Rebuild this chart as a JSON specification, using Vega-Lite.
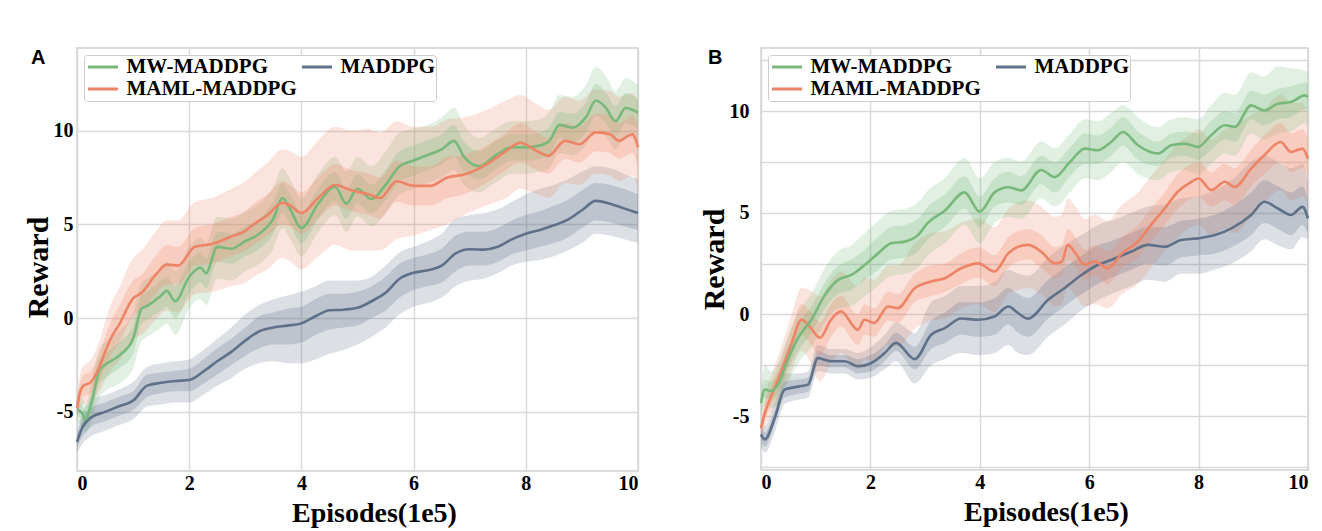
{
  "$schema": "https://vega.github.io/schema/vega-lite/v6.json",
  "background": "white",
  "padding": {"left": 22, "top": 47, "right": 5, "bottom": 5},
  "spacing": 54,
  "config": {
    "view": {"stroke": "#d0d0d0", "strokeWidth": 1.5},
    "axis": {"labelFont": "Liberation Serif", "labelFontSize": 20, "labelFontWeight": "bold", "labelColor": "black", "titleFont": "Liberation Serif", "titleFontSize": 28, "titleFontWeight": "bold", "titleColor": "black", "gridColor": "#d9d9d9", "gridWidth": 1.5, "domain": false, "ticks": false},
    "legend": {"orient": "top-left", "offset": 7, "columns": 2, "title": null, "symbolType": "stroke", "symbolSize": 900, "symbolStrokeWidth": 3, "clipHeight": 22, "labelFont": "Liberation Serif", "labelFontSize": 21, "labelFontWeight": "bold", "labelColor": "black", "strokeColor": "#cccccc", "fillColor": "white", "padding": 1, "cornerRadius": 3, "rowPadding": 0, "symbolOffset": 1.5, "labelOffset": 7, "labelLimit": 400}
  },
  "datasets": {
    "curves": [
      {"p":"A","s":"MADDPG","x":0,"m":-6.6,"l2":-7.2,"l1":-6.9,"h1":-6.3,"h2":-6.0},
      {"p":"A","s":"MADDPG","x":0.1,"m":-5.8,"l2":-6.7,"l1":-6.3,"h1":-5.3,"h2":-5.0},
      {"p":"A","s":"MADDPG","x":0.25,"m":-5.3,"l2":-6.3,"l1":-5.8,"h1":-4.8,"h2":-4.4},
      {"p":"A","s":"MADDPG","x":0.5,"m":-5.0,"l2":-6.0,"l1":-5.5,"h1":-4.5,"h2":-4.1},
      {"p":"A","s":"MADDPG","x":0.75,"m":-4.7,"l2":-5.7,"l1":-5.2,"h1":-4.2,"h2":-3.8},
      {"p":"A","s":"MADDPG","x":1.0,"m":-4.4,"l2":-5.4,"l1":-4.9,"h1":-3.9,"h2":-3.4},
      {"p":"A","s":"MADDPG","x":1.25,"m":-3.6,"l2":-4.7,"l1":-4.2,"h1":-3.0,"h2":-2.6},
      {"p":"A","s":"MADDPG","x":1.5,"m":-3.45,"l2":-4.6,"l1":-4.0,"h1":-2.9,"h2":-2.4},
      {"p":"A","s":"MADDPG","x":1.75,"m":-3.35,"l2":-4.5,"l1":-3.9,"h1":-2.8,"h2":-2.3},
      {"p":"A","s":"MADDPG","x":2.0,"m":-3.3,"l2":-4.5,"l1":-3.9,"h1":-2.7,"h2":-2.2},
      {"p":"A","s":"MADDPG","x":2.25,"m":-2.85,"l2":-4.1,"l1":-3.5,"h1":-2.2,"h2":-1.7},
      {"p":"A","s":"MADDPG","x":2.5,"m":-2.3,"l2":-3.6,"l1":-3.0,"h1":-1.6,"h2":-1.1},
      {"p":"A","s":"MADDPG","x":2.75,"m":-1.8,"l2":-3.2,"l1":-2.5,"h1":-1.1,"h2":-0.5},
      {"p":"A","s":"MADDPG","x":3.0,"m":-1.2,"l2":-2.7,"l1":-2.0,"h1":-0.5,"h2":0.2},
      {"p":"A","s":"MADDPG","x":3.25,"m":-0.7,"l2":-2.4,"l1":-1.6,"h1":0.1,"h2":0.7},
      {"p":"A","s":"MADDPG","x":3.5,"m":-0.5,"l2":-2.3,"l1":-1.4,"h1":0.3,"h2":1.0},
      {"p":"A","s":"MADDPG","x":3.75,"m":-0.4,"l2":-2.4,"l1":-1.4,"h1":0.5,"h2":1.2},
      {"p":"A","s":"MADDPG","x":4.0,"m":-0.28,"l2":-2.4,"l1":-1.3,"h1":0.6,"h2":1.4},
      {"p":"A","s":"MADDPG","x":4.25,"m":0.1,"l2":-2.2,"l1":-0.9,"h1":1.0,"h2":1.7},
      {"p":"A","s":"MADDPG","x":4.5,"m":0.42,"l2":-1.9,"l1":-0.6,"h1":1.3,"h2":2.0},
      {"p":"A","s":"MADDPG","x":4.75,"m":0.45,"l2":-1.7,"l1":-0.5,"h1":1.3,"h2":2.0},
      {"p":"A","s":"MADDPG","x":5.0,"m":0.55,"l2":-1.4,"l1":-0.4,"h1":1.4,"h2":2.0},
      {"p":"A","s":"MADDPG","x":5.25,"m":0.9,"l2":-1.0,"l1":0.0,"h1":1.7,"h2":2.2},
      {"p":"A","s":"MADDPG","x":5.5,"m":1.35,"l2":-0.5,"l1":0.4,"h1":2.2,"h2":2.8},
      {"p":"A","s":"MADDPG","x":5.75,"m":2.1,"l2":0.2,"l1":1.1,"h1":2.9,"h2":3.5},
      {"p":"A","s":"MADDPG","x":6.0,"m":2.42,"l2":0.6,"l1":1.5,"h1":3.2,"h2":3.8},
      {"p":"A","s":"MADDPG","x":6.25,"m":2.55,"l2":0.8,"l1":1.7,"h1":3.4,"h2":4.1},
      {"p":"A","s":"MADDPG","x":6.5,"m":2.8,"l2":1.1,"l1":1.9,"h1":3.7,"h2":4.5},
      {"p":"A","s":"MADDPG","x":6.75,"m":3.45,"l2":1.7,"l1":2.5,"h1":4.4,"h2":5.3},
      {"p":"A","s":"MADDPG","x":7.0,"m":3.67,"l2":2.0,"l1":2.8,"h1":4.6,"h2":5.5},
      {"p":"A","s":"MADDPG","x":7.25,"m":3.65,"l2":2.1,"l1":2.8,"h1":4.6,"h2":5.6},
      {"p":"A","s":"MADDPG","x":7.5,"m":3.8,"l2":2.4,"l1":3.0,"h1":4.8,"h2":5.8},
      {"p":"A","s":"MADDPG","x":7.75,"m":4.2,"l2":2.8,"l1":3.4,"h1":5.2,"h2":6.2},
      {"p":"A","s":"MADDPG","x":8.0,"m":4.5,"l2":3.0,"l1":3.6,"h1":5.5,"h2":6.6},
      {"p":"A","s":"MADDPG","x":8.25,"m":4.7,"l2":3.1,"l1":3.8,"h1":5.7,"h2":6.9},
      {"p":"A","s":"MADDPG","x":8.5,"m":4.95,"l2":3.3,"l1":4.0,"h1":6.0,"h2":7.1},
      {"p":"A","s":"MADDPG","x":8.75,"m":5.25,"l2":3.6,"l1":4.3,"h1":6.3,"h2":7.4},
      {"p":"A","s":"MADDPG","x":9.0,"m":5.75,"l2":4.0,"l1":4.8,"h1":6.8,"h2":7.8},
      {"p":"A","s":"MADDPG","x":9.25,"m":6.25,"l2":4.5,"l1":5.2,"h1":7.2,"h2":8.1},
      {"p":"A","s":"MADDPG","x":9.5,"m":6.1,"l2":4.4,"l1":5.1,"h1":7.1,"h2":8.0},
      {"p":"A","s":"MADDPG","x":9.75,"m":5.85,"l2":4.2,"l1":4.9,"h1":6.9,"h2":7.7},
      {"p":"A","s":"MADDPG","x":10,"m":5.6,"l2":4.0,"l1":4.7,"h1":6.6,"h2":7.4},

      {"p":"A","s":"MW-MADDPG","x":0,"m":-4.85,"l2":-5.5,"l1":-5.2,"h1":-4.5,"h2":-4.2},
      {"p":"A","s":"MW-MADDPG","x":0.1,"m":-5.1,"l2":-5.9,"l1":-5.5,"h1":-4.7,"h2":-4.3},
      {"p":"A","s":"MW-MADDPG","x":0.15,"m":-5.4,"l2":-6.1,"l1":-5.8,"h1":-5.0,"h2":-4.6},
      {"p":"A","s":"MW-MADDPG","x":0.25,"m":-4.6,"l2":-5.6,"l1":-5.1,"h1":-4.0,"h2":-3.5},
      {"p":"A","s":"MW-MADDPG","x":0.4,"m":-2.8,"l2":-4.2,"l1":-3.5,"h1":-2.2,"h2":-1.6},
      {"p":"A","s":"MW-MADDPG","x":0.5,"m":-2.5,"l2":-3.9,"l1":-3.2,"h1":-1.9,"h2":-1.3},
      {"p":"A","s":"MW-MADDPG","x":0.75,"m":-2.0,"l2":-3.5,"l1":-2.7,"h1":-1.3,"h2":-0.7},
      {"p":"A","s":"MW-MADDPG","x":1.0,"m":-1.1,"l2":-2.7,"l1":-1.9,"h1":-0.4,"h2":0.3},
      {"p":"A","s":"MW-MADDPG","x":1.15,"m":0.5,"l2":-1.2,"l1":-0.3,"h1":1.2,"h2":1.9},
      {"p":"A","s":"MW-MADDPG","x":1.25,"m":0.65,"l2":-1.0,"l1":-0.1,"h1":1.4,"h2":2.1},
      {"p":"A","s":"MW-MADDPG","x":1.5,"m":1.2,"l2":-0.5,"l1":0.4,"h1":2.0,"h2":2.7},
      {"p":"A","s":"MW-MADDPG","x":1.6,"m":1.45,"l2":-0.3,"l1":0.6,"h1":2.2,"h2":3.0},
      {"p":"A","s":"MW-MADDPG","x":1.75,"m":0.9,"l2":-0.9,"l1":0.0,"h1":1.7,"h2":2.5},
      {"p":"A","s":"MW-MADDPG","x":2.0,"m":2.2,"l2":0.5,"l1":1.3,"h1":3.0,"h2":3.8},
      {"p":"A","s":"MW-MADDPG","x":2.2,"m":2.7,"l2":1.0,"l1":1.9,"h1":3.5,"h2":4.3},
      {"p":"A","s":"MW-MADDPG","x":2.3,"m":2.4,"l2":0.7,"l1":1.6,"h1":3.2,"h2":4.0},
      {"p":"A","s":"MW-MADDPG","x":2.5,"m":3.8,"l2":2.1,"l1":3.0,"h1":4.6,"h2":5.4},
      {"p":"A","s":"MW-MADDPG","x":2.75,"m":3.7,"l2":2.0,"l1":2.9,"h1":4.5,"h2":5.3},
      {"p":"A","s":"MW-MADDPG","x":3.0,"m":4.1,"l2":2.5,"l1":3.3,"h1":4.9,"h2":5.7},
      {"p":"A","s":"MW-MADDPG","x":3.25,"m":4.5,"l2":2.9,"l1":3.7,"h1":5.3,"h2":6.1},
      {"p":"A","s":"MW-MADDPG","x":3.5,"m":5.3,"l2":3.7,"l1":4.5,"h1":6.2,"h2":7.0},
      {"p":"A","s":"MW-MADDPG","x":3.66,"m":6.4,"l2":4.8,"l1":5.6,"h1":7.2,"h2":8.0},
      {"p":"A","s":"MW-MADDPG","x":3.8,"m":5.8,"l2":4.2,"l1":5.0,"h1":6.6,"h2":7.4},
      {"p":"A","s":"MW-MADDPG","x":4.0,"m":4.8,"l2":3.3,"l1":4.0,"h1":5.6,"h2":6.4},
      {"p":"A","s":"MW-MADDPG","x":4.3,"m":6.1,"l2":4.6,"l1":5.3,"h1":6.9,"h2":7.7},
      {"p":"A","s":"MW-MADDPG","x":4.6,"m":7.0,"l2":5.5,"l1":6.2,"h1":7.8,"h2":8.6},
      {"p":"A","s":"MW-MADDPG","x":4.8,"m":6.1,"l2":4.6,"l1":5.3,"h1":6.9,"h2":7.8},
      {"p":"A","s":"MW-MADDPG","x":5.0,"m":6.9,"l2":5.4,"l1":6.1,"h1":7.7,"h2":8.6},
      {"p":"A","s":"MW-MADDPG","x":5.25,"m":6.35,"l2":4.9,"l1":5.6,"h1":7.1,"h2":8.1},
      {"p":"A","s":"MW-MADDPG","x":5.5,"m":7.1,"l2":5.6,"l1":6.3,"h1":7.9,"h2":8.9},
      {"p":"A","s":"MW-MADDPG","x":5.75,"m":8.1,"l2":6.6,"l1":7.3,"h1":8.9,"h2":9.9},
      {"p":"A","s":"MW-MADDPG","x":6.0,"m":8.4,"l2":6.9,"l1":7.6,"h1":9.2,"h2":10.1},
      {"p":"A","s":"MW-MADDPG","x":6.25,"m":8.7,"l2":7.2,"l1":7.9,"h1":9.5,"h2":10.3},
      {"p":"A","s":"MW-MADDPG","x":6.5,"m":9.0,"l2":7.5,"l1":8.2,"h1":9.8,"h2":10.7},
      {"p":"A","s":"MW-MADDPG","x":6.72,"m":9.45,"l2":7.9,"l1":8.6,"h1":10.3,"h2":11.2},
      {"p":"A","s":"MW-MADDPG","x":6.9,"m":8.6,"l2":7.1,"l1":7.8,"h1":9.4,"h2":10.3},
      {"p":"A","s":"MW-MADDPG","x":7.17,"m":8.1,"l2":6.7,"l1":7.4,"h1":8.9,"h2":9.6},
      {"p":"A","s":"MW-MADDPG","x":7.45,"m":8.65,"l2":7.2,"l1":7.9,"h1":9.4,"h2":10.1},
      {"p":"A","s":"MW-MADDPG","x":7.75,"m":9.1,"l2":7.7,"l1":8.4,"h1":9.8,"h2":10.5},
      {"p":"A","s":"MW-MADDPG","x":8.0,"m":9.1,"l2":7.7,"l1":8.4,"h1":9.8,"h2":10.5},
      {"p":"A","s":"MW-MADDPG","x":8.25,"m":9.2,"l2":7.8,"l1":8.5,"h1":9.9,"h2":10.6},
      {"p":"A","s":"MW-MADDPG","x":8.42,"m":9.45,"l2":8.0,"l1":8.7,"h1":10.2,"h2":11.0},
      {"p":"A","s":"MW-MADDPG","x":8.6,"m":10.3,"l2":8.8,"l1":9.6,"h1":11.0,"h2":11.9},
      {"p":"A","s":"MW-MADDPG","x":8.83,"m":10.15,"l2":8.7,"l1":9.4,"h1":10.9,"h2":11.8},
      {"p":"A","s":"MW-MADDPG","x":9.07,"m":10.7,"l2":9.2,"l1":9.9,"h1":11.5,"h2":12.4},
      {"p":"A","s":"MW-MADDPG","x":9.25,"m":11.6,"l2":10.0,"l1":10.8,"h1":12.5,"h2":13.4},
      {"p":"A","s":"MW-MADDPG","x":9.43,"m":11.2,"l2":9.7,"l1":10.4,"h1":12.0,"h2":12.9},
      {"p":"A","s":"MW-MADDPG","x":9.6,"m":10.5,"l2":9.0,"l1":9.7,"h1":11.3,"h2":12.1},
      {"p":"A","s":"MW-MADDPG","x":9.78,"m":11.2,"l2":9.7,"l1":10.4,"h1":12.0,"h2":12.8},
      {"p":"A","s":"MW-MADDPG","x":10,"m":10.95,"l2":9.4,"l1":10.1,"h1":11.7,"h2":12.4},

      {"p":"A","s":"MAML-MADDPG","x":0,"m":-4.8,"l2":-5.4,"l1":-5.2,"h1":-4.4,"h2":-4.1},
      {"p":"A","s":"MAML-MADDPG","x":0.05,"m":-4.0,"l2":-4.8,"l1":-4.5,"h1":-3.5,"h2":-3.1},
      {"p":"A","s":"MAML-MADDPG","x":0.1,"m":-3.65,"l2":-4.6,"l1":-4.2,"h1":-3.1,"h2":-2.6},
      {"p":"A","s":"MAML-MADDPG","x":0.25,"m":-3.4,"l2":-4.5,"l1":-4.0,"h1":-2.8,"h2":-2.2},
      {"p":"A","s":"MAML-MADDPG","x":0.4,"m":-2.6,"l2":-3.9,"l1":-3.3,"h1":-1.9,"h2":-1.2},
      {"p":"A","s":"MAML-MADDPG","x":0.5,"m":-1.8,"l2":-3.3,"l1":-2.6,"h1":-1.0,"h2":-0.2},
      {"p":"A","s":"MAML-MADDPG","x":0.6,"m":-1.1,"l2":-2.8,"l1":-2.0,"h1":-0.2,"h2":0.7},
      {"p":"A","s":"MAML-MADDPG","x":0.75,"m":-0.35,"l2":-2.3,"l1":-1.3,"h1":0.6,"h2":1.6},
      {"p":"A","s":"MAML-MADDPG","x":1.0,"m":1.05,"l2":-1.1,"l1":0.1,"h1":2.0,"h2":3.2},
      {"p":"A","s":"MAML-MADDPG","x":1.15,"m":1.35,"l2":-0.9,"l1":0.4,"h1":2.3,"h2":3.6},
      {"p":"A","s":"MAML-MADDPG","x":1.4,"m":2.3,"l2":-0.1,"l1":1.3,"h1":3.3,"h2":4.6},
      {"p":"A","s":"MAML-MADDPG","x":1.6,"m":2.85,"l2":0.4,"l1":1.8,"h1":3.9,"h2":5.2},
      {"p":"A","s":"MAML-MADDPG","x":1.8,"m":2.8,"l2":0.3,"l1":1.8,"h1":3.8,"h2":5.2},
      {"p":"A","s":"MAML-MADDPG","x":2.1,"m":3.8,"l2":1.3,"l1":2.8,"h1":4.8,"h2":6.2},
      {"p":"A","s":"MAML-MADDPG","x":2.4,"m":3.95,"l2":1.4,"l1":2.9,"h1":5.0,"h2":6.4},
      {"p":"A","s":"MAML-MADDPG","x":2.75,"m":4.35,"l2":1.7,"l1":3.3,"h1":5.4,"h2":6.9},
      {"p":"A","s":"MAML-MADDPG","x":3.0,"m":4.65,"l2":1.9,"l1":3.6,"h1":5.7,"h2":7.3},
      {"p":"A","s":"MAML-MADDPG","x":3.15,"m":5.0,"l2":2.2,"l1":3.9,"h1":6.1,"h2":7.7},
      {"p":"A","s":"MAML-MADDPG","x":3.4,"m":5.5,"l2":2.6,"l1":4.4,"h1":6.6,"h2":8.3},
      {"p":"A","s":"MAML-MADDPG","x":3.66,"m":6.15,"l2":3.2,"l1":5.0,"h1":7.3,"h2":9.0},
      {"p":"A","s":"MAML-MADDPG","x":3.8,"m":6.0,"l2":3.0,"l1":4.9,"h1":7.1,"h2":8.9},
      {"p":"A","s":"MAML-MADDPG","x":4.0,"m":5.6,"l2":2.6,"l1":4.5,"h1":6.7,"h2":8.6},
      {"p":"A","s":"MAML-MADDPG","x":4.3,"m":6.4,"l2":3.3,"l1":5.3,"h1":7.5,"h2":9.5},
      {"p":"A","s":"MAML-MADDPG","x":4.6,"m":7.1,"l2":3.9,"l1":6.0,"h1":8.2,"h2":10.2},
      {"p":"A","s":"MAML-MADDPG","x":4.9,"m":6.8,"l2":3.6,"l1":5.7,"h1":7.9,"h2":10.0},
      {"p":"A","s":"MAML-MADDPG","x":5.2,"m":6.6,"l2":3.6,"l1":5.5,"h1":7.7,"h2":10.1},
      {"p":"A","s":"MAML-MADDPG","x":5.4,"m":6.4,"l2":3.6,"l1":5.3,"h1":7.5,"h2":9.9},
      {"p":"A","s":"MAML-MADDPG","x":5.7,"m":7.3,"l2":4.2,"l1":6.2,"h1":8.4,"h2":10.5},
      {"p":"A","s":"MAML-MADDPG","x":6.0,"m":7.05,"l2":4.4,"l1":6.0,"h1":8.1,"h2":10.2},
      {"p":"A","s":"MAML-MADDPG","x":6.3,"m":7.05,"l2":4.7,"l1":6.0,"h1":8.1,"h2":10.2},
      {"p":"A","s":"MAML-MADDPG","x":6.6,"m":7.5,"l2":5.0,"l1":6.4,"h1":8.6,"h2":10.6},
      {"p":"A","s":"MAML-MADDPG","x":6.9,"m":7.65,"l2":5.5,"l1":6.6,"h1":8.7,"h2":10.7},
      {"p":"A","s":"MAML-MADDPG","x":7.3,"m":8.2,"l2":6.0,"l1":7.2,"h1":9.2,"h2":11.1},
      {"p":"A","s":"MAML-MADDPG","x":7.65,"m":8.9,"l2":6.4,"l1":7.9,"h1":9.9,"h2":11.6},
      {"p":"A","s":"MAML-MADDPG","x":7.9,"m":9.35,"l2":6.9,"l1":8.3,"h1":10.4,"h2":11.9},
      {"p":"A","s":"MAML-MADDPG","x":8.2,"m":8.9,"l2":6.6,"l1":7.9,"h1":9.9,"h2":11.4},
      {"p":"A","s":"MAML-MADDPG","x":8.4,"m":8.65,"l2":6.4,"l1":7.7,"h1":9.6,"h2":11.1},
      {"p":"A","s":"MAML-MADDPG","x":8.7,"m":9.45,"l2":7.2,"l1":8.5,"h1":10.4,"h2":11.8},
      {"p":"A","s":"MAML-MADDPG","x":8.95,"m":9.27,"l2":7.1,"l1":8.3,"h1":10.2,"h2":11.6},
      {"p":"A","s":"MAML-MADDPG","x":9.25,"m":9.9,"l2":7.7,"l1":8.9,"h1":10.9,"h2":12.2},
      {"p":"A","s":"MAML-MADDPG","x":9.5,"m":9.8,"l2":7.6,"l1":8.8,"h1":10.8,"h2":12.1},
      {"p":"A","s":"MAML-MADDPG","x":9.66,"m":9.45,"l2":7.3,"l1":8.5,"h1":10.4,"h2":11.8},
      {"p":"A","s":"MAML-MADDPG","x":9.9,"m":9.8,"l2":7.6,"l1":8.8,"h1":10.8,"h2":12.0},
      {"p":"A","s":"MAML-MADDPG","x":10,"m":9.1,"l2":6.8,"l1":8.0,"h1":10.2,"h2":11.5},

      {"p":"B","s":"MADDPG","x":0,"m":-5.9,"l2":-6.5,"l1":-6.2,"h1":-5.6,"h2":-5.3},
      {"p":"B","s":"MADDPG","x":0.07,"m":-6.15,"l2":-6.8,"l1":-6.5,"h1":-5.8,"h2":-5.5},
      {"p":"B","s":"MADDPG","x":0.25,"m":-5.1,"l2":-5.8,"l1":-5.4,"h1":-4.7,"h2":-4.3},
      {"p":"B","s":"MADDPG","x":0.43,"m":-3.7,"l2":-4.4,"l1":-4.1,"h1":-3.3,"h2":-2.9},
      {"p":"B","s":"MADDPG","x":0.68,"m":-3.55,"l2":-4.2,"l1":-3.9,"h1":-3.2,"h2":-2.9},
      {"p":"B","s":"MADDPG","x":0.86,"m":-3.45,"l2":-4.1,"l1":-3.8,"h1":-3.1,"h2":-2.8},
      {"p":"B","s":"MADDPG","x":1.04,"m":-2.15,"l2":-2.8,"l1":-2.5,"h1":-1.8,"h2":-1.5},
      {"p":"B","s":"MADDPG","x":1.28,"m":-2.3,"l2":-2.9,"l1":-2.6,"h1":-2.0,"h2":-1.7},
      {"p":"B","s":"MADDPG","x":1.53,"m":-2.3,"l2":-2.9,"l1":-2.6,"h1":-2.0,"h2":-1.7},
      {"p":"B","s":"MADDPG","x":1.77,"m":-2.55,"l2":-3.2,"l1":-2.9,"h1":-2.2,"h2":-1.9},
      {"p":"B","s":"MADDPG","x":2.01,"m":-2.4,"l2":-3.1,"l1":-2.8,"h1":-2.0,"h2":-1.6},
      {"p":"B","s":"MADDPG","x":2.26,"m":-1.9,"l2":-2.7,"l1":-2.3,"h1":-1.5,"h2":-1.0},
      {"p":"B","s":"MADDPG","x":2.47,"m":-1.4,"l2":-2.3,"l1":-1.8,"h1":-0.9,"h2":-0.4},
      {"p":"B","s":"MADDPG","x":2.81,"m":-2.2,"l2":-3.4,"l1":-2.7,"h1":-1.6,"h2":-0.9},
      {"p":"B","s":"MADDPG","x":3.11,"m":-1.0,"l2":-2.5,"l1":-1.7,"h1":-0.3,"h2":0.6},
      {"p":"B","s":"MADDPG","x":3.36,"m":-0.67,"l2":-2.2,"l1":-1.4,"h1":0.1,"h2":0.9},
      {"p":"B","s":"MADDPG","x":3.66,"m":-0.2,"l2":-1.9,"l1":-1.0,"h1":0.6,"h2":1.4},
      {"p":"B","s":"MADDPG","x":3.97,"m":-0.26,"l2":-2.0,"l1":-1.1,"h1":0.6,"h2":1.4},
      {"p":"B","s":"MADDPG","x":4.27,"m":-0.1,"l2":-1.9,"l1":-1.0,"h1":0.8,"h2":1.6},
      {"p":"B","s":"MADDPG","x":4.52,"m":0.39,"l2":-1.5,"l1":-0.5,"h1":1.3,"h2":2.2},
      {"p":"B","s":"MADDPG","x":4.7,"m":0.07,"l2":-1.9,"l1":-0.9,"h1":1.0,"h2":2.0},
      {"p":"B","s":"MADDPG","x":4.88,"m":-0.21,"l2":-2.0,"l1":-1.1,"h1":0.8,"h2":1.9},
      {"p":"B","s":"MADDPG","x":5.25,"m":0.72,"l2":-1.1,"l1":-0.2,"h1":1.7,"h2":2.8},
      {"p":"B","s":"MADDPG","x":5.55,"m":1.3,"l2":-0.5,"l1":0.4,"h1":2.3,"h2":3.4},
      {"p":"B","s":"MADDPG","x":5.86,"m":1.94,"l2":0.2,"l1":1.0,"h1":2.9,"h2":3.9},
      {"p":"B","s":"MADDPG","x":6.16,"m":2.44,"l2":0.7,"l1":1.5,"h1":3.4,"h2":4.4},
      {"p":"B","s":"MADDPG","x":6.4,"m":2.68,"l2":1.0,"l1":1.8,"h1":3.6,"h2":4.6},
      {"p":"B","s":"MADDPG","x":6.77,"m":3.09,"l2":1.4,"l1":2.2,"h1":4.0,"h2":5.0},
      {"p":"B","s":"MADDPG","x":7.07,"m":3.42,"l2":1.7,"l1":2.5,"h1":4.3,"h2":5.3},
      {"p":"B","s":"MADDPG","x":7.38,"m":3.33,"l2":1.6,"l1":2.4,"h1":4.3,"h2":5.4},
      {"p":"B","s":"MADDPG","x":7.68,"m":3.66,"l2":2.0,"l1":2.8,"h1":4.6,"h2":5.7},
      {"p":"B","s":"MADDPG","x":7.99,"m":3.74,"l2":2.0,"l1":2.9,"h1":4.7,"h2":5.8},
      {"p":"B","s":"MADDPG","x":8.3,"m":3.9,"l2":2.2,"l1":3.0,"h1":4.9,"h2":6.1},
      {"p":"B","s":"MADDPG","x":8.6,"m":4.23,"l2":2.5,"l1":3.3,"h1":5.3,"h2":6.6},
      {"p":"B","s":"MADDPG","x":8.96,"m":4.89,"l2":3.1,"l1":3.9,"h1":6.0,"h2":7.5},
      {"p":"B","s":"MADDPG","x":9.2,"m":5.54,"l2":3.7,"l1":4.5,"h1":6.6,"h2":7.8},
      {"p":"B","s":"MADDPG","x":9.45,"m":5.21,"l2":3.4,"l1":4.2,"h1":6.3,"h2":7.5},
      {"p":"B","s":"MADDPG","x":9.69,"m":4.89,"l2":3.2,"l1":3.9,"h1":6.0,"h2":7.2},
      {"p":"B","s":"MADDPG","x":9.9,"m":5.29,"l2":3.8,"l1":4.4,"h1":6.3,"h2":7.4},
      {"p":"B","s":"MADDPG","x":10,"m":4.72,"l2":3.7,"l1":4.0,"h1":5.6,"h2":6.5},

      {"p":"B","s":"MAML-MADDPG","x":0,"m":-5.6,"l2":-6.2,"l1":-5.9,"h1":-5.3,"h2":-5.0},
      {"p":"B","s":"MAML-MADDPG","x":0.07,"m":-4.85,"l2":-5.6,"l1":-5.2,"h1":-4.4,"h2":-4.0},
      {"p":"B","s":"MAML-MADDPG","x":0.19,"m":-4.0,"l2":-4.9,"l1":-4.5,"h1":-3.5,"h2":-3.0},
      {"p":"B","s":"MAML-MADDPG","x":0.37,"m":-2.8,"l2":-3.9,"l1":-3.4,"h1":-2.2,"h2":-1.6},
      {"p":"B","s":"MAML-MADDPG","x":0.55,"m":-1.5,"l2":-2.8,"l1":-2.2,"h1":-0.8,"h2":-0.1},
      {"p":"B","s":"MAML-MADDPG","x":0.74,"m":-0.26,"l2":-1.8,"l1":-1.0,"h1":0.5,"h2":1.3},
      {"p":"B","s":"MAML-MADDPG","x":0.89,"m":-0.6,"l2":-2.3,"l1":-1.4,"h1":0.2,"h2":1.2},
      {"p":"B","s":"MAML-MADDPG","x":1.08,"m":-1.15,"l2":-3.3,"l1":-2.0,"h1":-0.4,"h2":0.9},
      {"p":"B","s":"MAML-MADDPG","x":1.28,"m":-0.26,"l2":-2.4,"l1":-1.1,"h1":0.5,"h2":1.7},
      {"p":"B","s":"MAML-MADDPG","x":1.46,"m":0.15,"l2":-1.9,"l1":-0.6,"h1":0.9,"h2":2.1},
      {"p":"B","s":"MAML-MADDPG","x":1.77,"m":-0.75,"l2":-2.7,"l1":-1.5,"h1":0.0,"h2":1.4},
      {"p":"B","s":"MAML-MADDPG","x":1.89,"m":-0.26,"l2":-2.2,"l1":-1.0,"h1":0.5,"h2":1.8},
      {"p":"B","s":"MAML-MADDPG","x":2.07,"m":-0.42,"l2":-2.3,"l1":-1.1,"h1":0.3,"h2":1.7},
      {"p":"B","s":"MAML-MADDPG","x":2.32,"m":0.39,"l2":-1.5,"l1":-0.3,"h1":1.1,"h2":2.4},
      {"p":"B","s":"MAML-MADDPG","x":2.5,"m":0.31,"l2":-1.6,"l1":-0.4,"h1":1.0,"h2":2.4},
      {"p":"B","s":"MAML-MADDPG","x":2.81,"m":1.29,"l2":-0.7,"l1":0.6,"h1":2.0,"h2":3.5},
      {"p":"B","s":"MAML-MADDPG","x":3.11,"m":1.62,"l2":-0.3,"l1":0.9,"h1":2.4,"h2":4.0},
      {"p":"B","s":"MAML-MADDPG","x":3.36,"m":1.78,"l2":-0.2,"l1":1.1,"h1":2.5,"h2":4.1},
      {"p":"B","s":"MAML-MADDPG","x":3.66,"m":2.27,"l2":0.3,"l1":1.5,"h1":3.0,"h2":4.5},
      {"p":"B","s":"MAML-MADDPG","x":3.97,"m":2.51,"l2":0.5,"l1":1.8,"h1":3.3,"h2":4.7},
      {"p":"B","s":"MAML-MADDPG","x":4.27,"m":2.11,"l2":0.1,"l1":1.4,"h1":2.9,"h2":4.3},
      {"p":"B","s":"MAML-MADDPG","x":4.52,"m":3.0,"l2":1.0,"l1":2.3,"h1":3.8,"h2":5.2},
      {"p":"B","s":"MAML-MADDPG","x":4.7,"m":3.33,"l2":1.2,"l1":2.6,"h1":4.1,"h2":5.5},
      {"p":"B","s":"MAML-MADDPG","x":4.88,"m":3.42,"l2":1.3,"l1":2.7,"h1":4.2,"h2":5.6},
      {"p":"B","s":"MAML-MADDPG","x":5.12,"m":3.09,"l2":1.0,"l1":2.3,"h1":3.9,"h2":5.3},
      {"p":"B","s":"MAML-MADDPG","x":5.37,"m":2.51,"l2":0.4,"l1":1.8,"h1":3.3,"h2":4.8},
      {"p":"B","s":"MAML-MADDPG","x":5.5,"m":2.6,"l2":0.5,"l1":1.9,"h1":3.4,"h2":4.9},
      {"p":"B","s":"MAML-MADDPG","x":5.61,"m":3.42,"l2":1.3,"l1":2.7,"h1":4.2,"h2":5.7},
      {"p":"B","s":"MAML-MADDPG","x":5.75,"m":3.0,"l2":0.9,"l1":2.3,"h1":3.8,"h2":5.3},
      {"p":"B","s":"MAML-MADDPG","x":5.92,"m":2.44,"l2":0.4,"l1":1.7,"h1":3.2,"h2":4.7},
      {"p":"B","s":"MAML-MADDPG","x":6.1,"m":2.6,"l2":0.5,"l1":1.9,"h1":3.4,"h2":4.9},
      {"p":"B","s":"MAML-MADDPG","x":6.34,"m":2.27,"l2":0.3,"l1":1.5,"h1":3.1,"h2":4.6},
      {"p":"B","s":"MAML-MADDPG","x":6.6,"m":3.0,"l2":1.0,"l1":2.3,"h1":3.8,"h2":5.4},
      {"p":"B","s":"MAML-MADDPG","x":6.89,"m":3.58,"l2":1.5,"l1":2.8,"h1":4.4,"h2":6.0},
      {"p":"B","s":"MAML-MADDPG","x":7.13,"m":4.4,"l2":2.3,"l1":3.6,"h1":5.2,"h2":6.8},
      {"p":"B","s":"MAML-MADDPG","x":7.38,"m":5.21,"l2":3.1,"l1":4.4,"h1":6.0,"h2":7.6},
      {"p":"B","s":"MAML-MADDPG","x":7.62,"m":6.03,"l2":3.8,"l1":5.2,"h1":6.9,"h2":8.4},
      {"p":"B","s":"MAML-MADDPG","x":7.87,"m":6.52,"l2":4.3,"l1":5.7,"h1":7.4,"h2":8.9},
      {"p":"B","s":"MAML-MADDPG","x":8.0,"m":6.68,"l2":4.4,"l1":5.8,"h1":7.5,"h2":9.1},
      {"p":"B","s":"MAML-MADDPG","x":8.23,"m":6.11,"l2":3.9,"l1":5.3,"h1":7.0,"h2":8.6},
      {"p":"B","s":"MAML-MADDPG","x":8.48,"m":6.52,"l2":4.2,"l1":5.6,"h1":7.4,"h2":9.1},
      {"p":"B","s":"MAML-MADDPG","x":8.66,"m":6.27,"l2":4.0,"l1":5.4,"h1":7.2,"h2":9.3},
      {"p":"B","s":"MAML-MADDPG","x":8.96,"m":7.17,"l2":4.8,"l1":6.3,"h1":8.1,"h2":9.8},
      {"p":"B","s":"MAML-MADDPG","x":9.2,"m":7.83,"l2":5.5,"l1":6.9,"h1":8.8,"h2":10.1},
      {"p":"B","s":"MAML-MADDPG","x":9.5,"m":8.48,"l2":6.1,"l1":7.5,"h1":9.4,"h2":10.8},
      {"p":"B","s":"MAML-MADDPG","x":9.69,"m":7.99,"l2":5.6,"l1":7.0,"h1":8.9,"h2":10.4},
      {"p":"B","s":"MAML-MADDPG","x":9.9,"m":8.15,"l2":5.8,"l1":7.2,"h1":9.1,"h2":10.4},
      {"p":"B","s":"MAML-MADDPG","x":10,"m":7.66,"l2":5.5,"l1":6.8,"h1":8.6,"h2":9.8},

      {"p":"B","s":"MW-MADDPG","x":0,"m":-4.35,"l2":-5.0,"l1":-4.7,"h1":-4.0,"h2":-3.6},
      {"p":"B","s":"MW-MADDPG","x":0.07,"m":-3.7,"l2":-4.5,"l1":-4.1,"h1":-3.2,"h2":-2.5},
      {"p":"B","s":"MW-MADDPG","x":0.19,"m":-3.77,"l2":-4.6,"l1":-4.2,"h1":-3.3,"h2":-2.8},
      {"p":"B","s":"MW-MADDPG","x":0.31,"m":-3.45,"l2":-4.4,"l1":-3.9,"h1":-2.9,"h2":-2.4},
      {"p":"B","s":"MW-MADDPG","x":0.5,"m":-2.15,"l2":-3.3,"l1":-2.7,"h1":-1.6,"h2":-1.0},
      {"p":"B","s":"MW-MADDPG","x":0.68,"m":-1.15,"l2":-2.4,"l1":-1.8,"h1":-0.5,"h2":0.1},
      {"p":"B","s":"MW-MADDPG","x":0.92,"m":-0.26,"l2":-1.6,"l1":-0.9,"h1":0.4,"h2":1.0},
      {"p":"B","s":"MW-MADDPG","x":1.17,"m":0.96,"l2":-0.4,"l1":0.3,"h1":1.6,"h2":2.3},
      {"p":"B","s":"MW-MADDPG","x":1.41,"m":1.7,"l2":0.3,"l1":1.0,"h1":2.4,"h2":3.1},
      {"p":"B","s":"MW-MADDPG","x":1.65,"m":1.94,"l2":0.4,"l1":1.2,"h1":2.7,"h2":3.4},
      {"p":"B","s":"MW-MADDPG","x":1.9,"m":2.44,"l2":0.9,"l1":1.7,"h1":3.2,"h2":4.0},
      {"p":"B","s":"MW-MADDPG","x":2.14,"m":3.0,"l2":1.4,"l1":2.2,"h1":3.8,"h2":4.6},
      {"p":"B","s":"MW-MADDPG","x":2.38,"m":3.5,"l2":1.9,"l1":2.7,"h1":4.3,"h2":5.1},
      {"p":"B","s":"MW-MADDPG","x":2.63,"m":3.58,"l2":2.0,"l1":2.8,"h1":4.4,"h2":5.2},
      {"p":"B","s":"MW-MADDPG","x":2.87,"m":3.9,"l2":2.3,"l1":3.1,"h1":4.7,"h2":5.5},
      {"p":"B","s":"MW-MADDPG","x":3.05,"m":4.5,"l2":2.9,"l1":3.7,"h1":5.3,"h2":6.1},
      {"p":"B","s":"MW-MADDPG","x":3.36,"m":5.1,"l2":3.5,"l1":4.3,"h1":5.9,"h2":6.7},
      {"p":"B","s":"MW-MADDPG","x":3.72,"m":6.0,"l2":4.4,"l1":5.2,"h1":6.8,"h2":7.7},
      {"p":"B","s":"MW-MADDPG","x":4.0,"m":5.05,"l2":3.5,"l1":4.3,"h1":5.8,"h2":6.7},
      {"p":"B","s":"MW-MADDPG","x":4.27,"m":6.0,"l2":4.5,"l1":5.3,"h1":6.7,"h2":7.5},
      {"p":"B","s":"MW-MADDPG","x":4.52,"m":6.25,"l2":4.8,"l1":5.5,"h1":7.0,"h2":7.7},
      {"p":"B","s":"MW-MADDPG","x":4.76,"m":6.1,"l2":4.7,"l1":5.4,"h1":6.8,"h2":7.5},
      {"p":"B","s":"MW-MADDPG","x":5.12,"m":7.1,"l2":5.7,"l1":6.4,"h1":7.8,"h2":8.5},
      {"p":"B","s":"MW-MADDPG","x":5.37,"m":6.75,"l2":5.3,"l1":6.0,"h1":7.5,"h2":8.2},
      {"p":"B","s":"MW-MADDPG","x":5.65,"m":7.5,"l2":6.0,"l1":6.8,"h1":8.2,"h2":8.9},
      {"p":"B","s":"MW-MADDPG","x":5.92,"m":8.15,"l2":6.7,"l1":7.4,"h1":8.9,"h2":9.6},
      {"p":"B","s":"MW-MADDPG","x":6.16,"m":8.07,"l2":6.6,"l1":7.4,"h1":8.8,"h2":9.5},
      {"p":"B","s":"MW-MADDPG","x":6.4,"m":8.48,"l2":7.0,"l1":7.8,"h1":9.2,"h2":9.9},
      {"p":"B","s":"MW-MADDPG","x":6.62,"m":8.97,"l2":7.5,"l1":8.3,"h1":9.7,"h2":10.3},
      {"p":"B","s":"MW-MADDPG","x":6.89,"m":8.32,"l2":6.9,"l1":7.6,"h1":9.0,"h2":9.7},
      {"p":"B","s":"MW-MADDPG","x":7.26,"m":7.91,"l2":6.6,"l1":7.3,"h1":8.5,"h2":9.2},
      {"p":"B","s":"MW-MADDPG","x":7.5,"m":8.32,"l2":7.0,"l1":7.7,"h1":8.9,"h2":9.6},
      {"p":"B","s":"MW-MADDPG","x":7.75,"m":8.4,"l2":7.1,"l1":7.8,"h1":9.0,"h2":9.7},
      {"p":"B","s":"MW-MADDPG","x":7.99,"m":8.24,"l2":6.9,"l1":7.6,"h1":8.9,"h2":9.6},
      {"p":"B","s":"MW-MADDPG","x":8.23,"m":8.81,"l2":7.4,"l1":8.1,"h1":9.5,"h2":10.3},
      {"p":"B","s":"MW-MADDPG","x":8.48,"m":9.3,"l2":7.9,"l1":8.6,"h1":10.0,"h2":10.9},
      {"p":"B","s":"MW-MADDPG","x":8.66,"m":9.22,"l2":7.8,"l1":8.5,"h1":9.9,"h2":10.8},
      {"p":"B","s":"MW-MADDPG","x":8.96,"m":10.28,"l2":8.9,"l1":9.6,"h1":11.0,"h2":11.9},
      {"p":"B","s":"MW-MADDPG","x":9.2,"m":10.03,"l2":8.6,"l1":9.3,"h1":10.8,"h2":11.7},
      {"p":"B","s":"MW-MADDPG","x":9.45,"m":10.36,"l2":8.9,"l1":9.6,"h1":11.1,"h2":12.2},
      {"p":"B","s":"MW-MADDPG","x":9.69,"m":10.44,"l2":9.0,"l1":9.7,"h1":11.2,"h2":12.1},
      {"p":"B","s":"MW-MADDPG","x":9.94,"m":10.77,"l2":9.4,"l1":10.1,"h1":11.4,"h2":12.0},
      {"p":"B","s":"MW-MADDPG","x":10,"m":10.69,"l2":9.3,"l1":10.0,"h1":11.3,"h2":11.9}
    ]
  },
  "hconcat": [
    {
      "width": 561,
      "height": 423,
      "data": {"name": "curves"},
      "transform": [{"filter": "datum.p == 'A'"}],
      "title": {"text": "A", "anchor": "start", "frame": "group", "font": "Liberation Sans", "fontSize": 20, "fontWeight": "bold", "color": "black", "dx": -46, "dy": 20, "offset": 0},
      "encoding": {
        "x": {"field": "x", "type": "quantitative", "scale": {"domain": [0, 10], "nice": false, "zero": false}, "axis": {"values": [0, 2, 4, 6, 8, 10], "title": "Episodes(1e5)", "labelPadding": 2, "titlePadding": 6, "titleX": 297}}
      },
      "layer": [
        {"mark": {"type": "area", "fillOpacity": 0.22, "interpolate": "monotone"}, "encoding": {"y": {"field": "l2", "type": "quantitative", "scale": {"domain": [-8.15, 14.4], "nice": false, "zero": false}, "axis": {"values": [-5, 0, 5, 10], "labelExpr": "'' + datum.value", "title": "Reward", "titleFontSize": 30, "labelPadding": 4, "titlePadding": 0, "titleY": 219}}, "y2": {"field": "h2"}, "fill": {"field": "s", "type": "nominal", "scale": {"domain": ["MADDPG", "MW-MADDPG", "MAML-MADDPG"], "range": ["#5f7189", "#78b97b", "#ee8466"]}, "legend": null}}},
        {"mark": {"type": "area", "fillOpacity": 0.25, "interpolate": "monotone"}, "encoding": {"y": {"field": "l1", "type": "quantitative"}, "y2": {"field": "h1"}, "fill": {"field": "s", "type": "nominal", "legend": null}}},
        {"mark": {"type": "line", "strokeWidth": 2.6, "interpolate": "monotone"}, "encoding": {"y": {"field": "m", "type": "quantitative"}, "stroke": {"field": "s", "type": "nominal", "scale": {"domain": ["MW-MADDPG", "MAML-MADDPG", "MADDPG"], "range": ["#78b97b", "#ee8466", "#5f7189"]}, "legend": {"columnPadding": 2, "labelExpr": "datum.value == 'MADDPG' ? 'MADDPG\u00a0\u00a0\u00a0\u00a0' : datum.value"}}}}
      ]
    },
    {
      "width": 547,
      "height": 422,
      "data": {"name": "curves"},
      "transform": [{"filter": "datum.p == 'B'"}],
      "title": {"text": "B", "anchor": "start", "frame": "group", "font": "Liberation Sans", "fontSize": 20, "fontWeight": "bold", "color": "black", "dx": -53, "dy": 20, "offset": 0},
      "encoding": {
        "x": {"field": "x", "type": "quantitative", "scale": {"domain": [0, 10], "nice": false, "zero": false}, "axis": {"values": [0, 2, 4, 6, 8, 10], "title": "Episodes(1e5)", "labelPadding": 2, "titlePadding": 6, "titleX": 285}}
      },
      "layer": [
        {"mark": {"type": "area", "fillOpacity": 0.22, "interpolate": "monotone"}, "encoding": {"y": {"field": "l2", "type": "quantitative", "scale": {"domain": [-7.65, 13.1], "nice": false, "zero": false}, "axis": {"values": [-7.5, -5, -2.5, 0, 2.5, 5, 7.5, 10, 12.5], "labelExpr": "datum.value % 5 == 0 ? '' + datum.value : ''", "title": "Reward", "titleFontSize": 30, "labelPadding": 12, "titlePadding": 0}}, "y2": {"field": "h2"}, "fill": {"field": "s", "type": "nominal", "scale": {"domain": ["MADDPG", "MW-MADDPG", "MAML-MADDPG"], "range": ["#5f7189", "#78b97b", "#ee8466"]}, "legend": null}}},
        {"mark": {"type": "area", "fillOpacity": 0.25, "interpolate": "monotone"}, "encoding": {"y": {"field": "l1", "type": "quantitative"}, "y2": {"field": "h1"}, "fill": {"field": "s", "type": "nominal", "legend": null}}},
        {"mark": {"type": "line", "strokeWidth": 2.6, "interpolate": "monotone"}, "encoding": {"y": {"field": "m", "type": "quantitative"}, "stroke": {"field": "s", "type": "nominal", "scale": {"domain": ["MW-MADDPG", "MAML-MADDPG", "MADDPG"], "range": ["#78b97b", "#ee8466", "#5f7189"]}, "legend": {"columnPadding": 12, "labelExpr": "datum.value == 'MADDPG' ? '\u00a0\u00a0MADDPG\u00a0\u00a0\u00a0' : datum.value"}}}}
      ]
    }
  ],
  "resolve": {"scale": {"y": "independent", "fill": "independent", "stroke": "independent"}, "legend": {"stroke": "independent", "fill": "independent"}}
}
